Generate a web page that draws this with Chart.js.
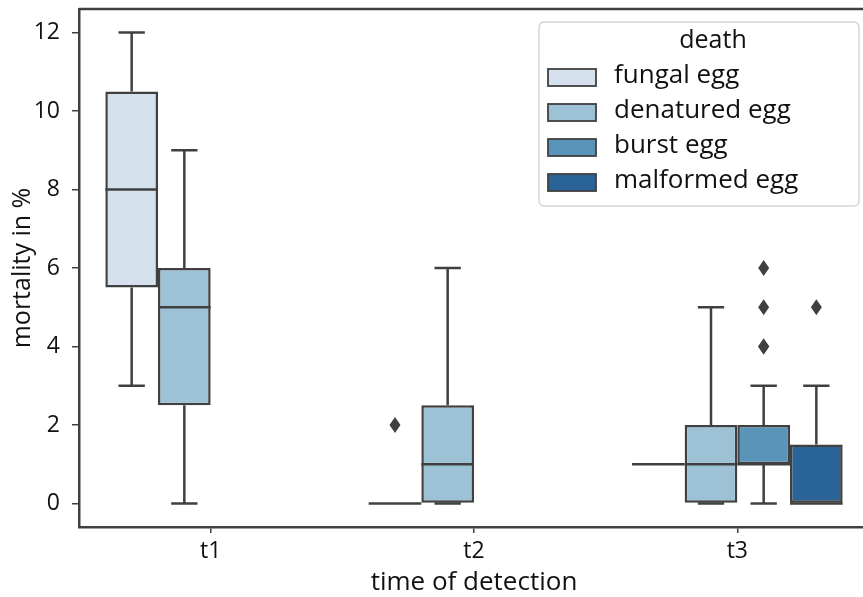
<!DOCTYPE html>
<html>
<head>
<meta charset="utf-8">
<script src="https://cdn.jsdelivr.net/npm/chart.js"></script>
<style>
  html, body { margin: 0; padding: 0; background: #fff; overflow: hidden; }
  #wrap { width: 872px; height: 597px; }
</style>
</head>
<body>
<div id="wrap"><canvas id="boxChart"></canvas></div>
<script>
const categories = ['t1', 't2', 't3'];
const hues = ['fungal egg', 'denatured egg', 'burst egg', 'malformed egg'];
const yTicks = [0, 2, 4, 6, 8, 10, 12];

// [lower whisker, q1, median, q3, upper whisker] per time point
const fungalStats = [[3, 5.5, 8, 10.5, 12], [0, 0, 0, 0, 0], [1, 1, 1, 1, 1]];
const denaturedStats = [[0, 2.5, 5, 6, 9], [0, 0, 1, 2.5, 6], [0, 0, 1, 2, 5]];
const burstStats = [null, null, [0, 1, 1, 2, 3]];
const malformedStats = [null, null, [0, 0, 0, 1.5, 3]];

const fungalOut = [[], [2], []];
const denaturedOut = [[], [], []];
const burstOut = [[], [], [4, 4, 5, 6]];
const malformedOut = [[], [], [5]];

const hueColors = ['#d5e2ee', '#9dc1d5', '#5a94b9', '#296398'];
const lineGray = '#404040';
const fontName = "'Open Sans', sans-serif";

const allStats = [fungalStats, denaturedStats, burstStats, malformedStats];
const allOut = [fungalOut, denaturedOut, burstOut, malformedOut];

const boxPlugin = {
  id: 'boxWhiskers',
  afterDatasetsDraw(chart) {
    const ctx = chart.ctx;
    const y = chart.scales.y;
    ctx.save();
    ctx.strokeStyle = lineGray;
    ctx.fillStyle = lineGray;
    ctx.lineWidth = 2.5;
    chart.data.datasets.forEach((ds, i) => {
      const meta = chart.getDatasetMeta(i);
      allStats[i].forEach((s, j) => {
        if (!s) return;
        const bar = meta.data[j];
        const x = bar.x, w = bar.width;
        const pMin = y.getPixelForValue(s[0]);
        const pQ1 = y.getPixelForValue(s[1]);
        const pMed = y.getPixelForValue(s[2]);
        const pQ3 = y.getPixelForValue(s[3]);
        const pMax = y.getPixelForValue(s[4]);
        ctx.beginPath();
        ctx.moveTo(x, pQ3); ctx.lineTo(x, pMax);
        ctx.moveTo(x, pQ1); ctx.lineTo(x, pMin);
        ctx.moveTo(x - w / 4, pMax); ctx.lineTo(x + w / 4, pMax);
        ctx.moveTo(x - w / 4, pMin); ctx.lineTo(x + w / 4, pMin);
        ctx.moveTo(x - w / 2, pMed); ctx.lineTo(x + w / 2, pMed);
        if (s[1] === s[3]) {
          ctx.moveTo(x - w / 2, pQ1); ctx.lineTo(x + w / 2, pQ1);
        }
        ctx.stroke();
        allOut[i][j].forEach(v => {
          const py = y.getPixelForValue(v);
          ctx.beginPath();
          ctx.moveTo(x, py - 8);
          ctx.lineTo(x + 5.5, py);
          ctx.lineTo(x, py + 8);
          ctx.lineTo(x - 5.5, py);
          ctx.closePath();
          ctx.fill();
        });
      });
    });
    ctx.restore();
  },
  afterDraw(chart) {
    const ctx = chart.ctx;
    const a = chart.chartArea;
    ctx.save();
    // top spine
    ctx.strokeStyle = lineGray;
    ctx.lineWidth = 2.5;
    ctx.beginPath();
    ctx.moveTo(a.left, a.top); ctx.lineTo(a.right, a.top);
    ctx.stroke();
    // legend
    const lx = 539, ly = 22, lw = 320, lh = 184;
    ctx.fillStyle = 'rgba(255,255,255,0.85)';
    ctx.strokeStyle = '#d6d6d6';
    ctx.lineWidth = 1.5;
    ctx.beginPath();
    ctx.roundRect(lx, ly, lw, lh, 5);
    ctx.fill();
    ctx.stroke();
    ctx.fillStyle = '#111';
    ctx.font = '25px ' + fontName;
    ctx.textAlign = 'center';
    ctx.textBaseline = 'middle';
    ctx.fillText('death', 713, 41);
    ctx.textAlign = 'left';
    chart.data.datasets.forEach((ds, i) => {
      const cy = 77 + i * 35;
      ctx.fillStyle = ds.backgroundColor;
      ctx.strokeStyle = lineGray;
      ctx.lineWidth = 1.8;
      ctx.fillRect(548, cy - 8, 48, 17);
      ctx.strokeRect(548, cy - 8, 48, 17);
      ctx.fillStyle = '#111';
      ctx.font = '26px ' + fontName;
      ctx.fillText(ds.label, 614, cy - 1);
    });
    ctx.restore();
  }
};

new Chart('boxChart', {
  type: 'bar',
  data: {
    labels: categories,
    datasets: hues.map((h, i) => ({
      label: h,
      data: allStats[i].map(s => s ? [s[1], s[3]] : null),
      backgroundColor: hueColors[i],
      borderColor: lineGray,
      borderWidth: 2.5,
      borderSkipped: false,
      categoryPercentage: 0.8,
      barPercentage: 1.0
    }))
  },
  options: {
    responsive: true,
    maintainAspectRatio: false,
    animation: false,
    layout: { padding: { top: 9, right: 3, left: 0, bottom: 0 } },
    plugins: { legend: { display: false }, tooltip: { enabled: false } },
    scales: {
      x: {
        grid: { display: true, drawOnChartArea: false, drawTicks: true, tickLength: 6, offset: false, color: lineGray, lineWidth: 1.5 },
        border: { display: true, color: lineGray, width: 2.5 },
        ticks: { color: '#111', font: { family: fontName, size: 23 }, padding: 5 },
        title: { display: true, text: 'time of detection', color: '#111', font: { family: fontName, size: 26 }, padding: { top: 0, bottom: -1 } },
        afterFit(scale) { scale.height = 70; scale.paddingLeft = 0; scale.paddingRight = 0; }
      },
      y: {
        min: -0.6,
        max: 12.6,
        afterBuildTicks(scale) { scale.ticks = yTicks.map(v => ({ value: v })); },
        grid: { display: true, drawOnChartArea: false, drawTicks: true, tickLength: 7, color: lineGray, lineWidth: 1.5 },
        border: { display: true, color: lineGray, width: 2.5 },
        ticks: { color: '#111', font: { family: fontName, size: 23 }, padding: 12 },
        title: { display: true, text: 'mortality in %', color: '#111', font: { family: fontName, size: 25 }, padding: { top: 8, bottom: 0 } },
        afterFit(scale) { scale.width = 79; scale.paddingTop = 0; scale.paddingBottom = 0; }
      }
    }
  },
  plugins: [boxPlugin]
});
</script>
</body>
</html>
